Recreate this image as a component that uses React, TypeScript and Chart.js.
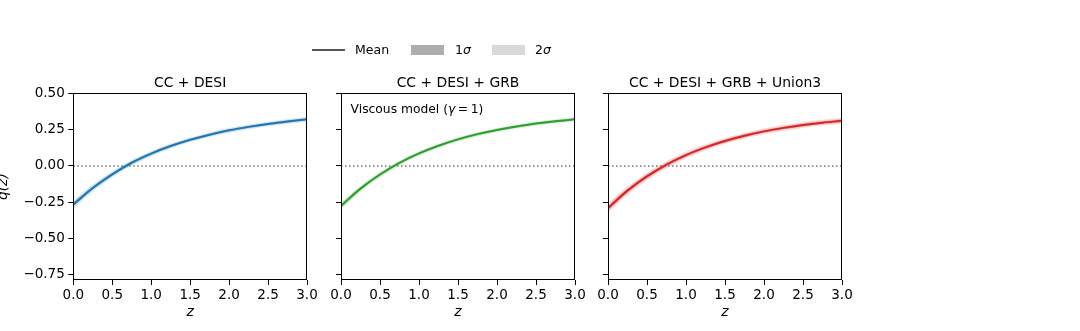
import React, { useEffect, useRef } from 'react';
import { Chart, registerables } from 'chart.js';

Chart.register(...registerables);

// ---------------- data ----------------
const zValues = [0, 0.25, 0.5, 0.75, 1.0, 1.25, 1.5, 1.75, 2.0, 2.25, 2.5, 2.75, 3.0];

const qMeanCCDESI = [-0.265, -0.152, -0.058, 0.022, 0.085, 0.137, 0.18, 0.215, 0.245, 0.269, 0.289, 0.306, 0.321];
const qMeanCCDESIGRB = [-0.275, -0.156, -0.059, 0.021, 0.086, 0.139, 0.183, 0.219, 0.248, 0.272, 0.292, 0.308, 0.321];
const qMeanCCDESIGRBU3 = [-0.29, -0.17, -0.072, 0.009, 0.075, 0.128, 0.172, 0.208, 0.238, 0.262, 0.282, 0.298, 0.311];

const sigma1CCDESI = [0.014, 0.012, 0.011, 0.01, 0.009, 0.009, 0.008, 0.008, 0.008, 0.008, 0.008, 0.008, 0.008];
const sigma2CCDESI = [0.028, 0.024, 0.021, 0.019, 0.018, 0.017, 0.016, 0.016, 0.016, 0.016, 0.016, 0.016, 0.016];
const sigma1CCDESIGRB = [0.012, 0.01, 0.009, 0.008, 0.007, 0.007, 0.007, 0.007, 0.007, 0.007, 0.007, 0.007, 0.007];
const sigma2CCDESIGRB = [0.024, 0.02, 0.018, 0.016, 0.015, 0.014, 0.014, 0.014, 0.014, 0.014, 0.014, 0.014, 0.014];
const sigma1CCDESIGRBU3 = [0.016, 0.014, 0.013, 0.012, 0.011, 0.01, 0.01, 0.01, 0.01, 0.01, 0.01, 0.01, 0.01];
const sigma2CCDESIGRBU3 = [0.032, 0.028, 0.026, 0.024, 0.022, 0.021, 0.02, 0.02, 0.02, 0.02, 0.02, 0.02, 0.02];

const panelTitles = ['CC + DESI', 'CC + DESI + GRB', 'CC + DESI + GRB + Union3'];
const panelColors = ['31,119,180', '44,160,44', '214,39,40'];
const xTicks = [0, 0.5, 1.0, 1.5, 2.0, 2.5, 3.0];
const yTicks = [-0.75, -0.5, -0.25, 0, 0.25, 0.5];
const xRange = [0, 3];
const yRange = [-0.785, 0.5];
const zeroLevel = 0;
const legendLabels = ['Mean', '1', '2'];
const noteParts = ['Viscous model (', 'γ', '=', '1)'];
const axisLabels = { x: 'z', y: 'q(z)' };

// ---------------- layout ----------------
const FONT = '"DejaVu Sans", "Liberation Sans", sans-serif';
const CANVAS_H = 331;
const PLOT_TOP = 93.3;
const PLOT_BOTTOM = 280;
const PLOT_W = 234;
const RIGHT_PAD = 16;
const TITLE_SIZE = 13.9;
const TITLE_PAD_BOTTOM = 1.66;

type PanelSpec = {
  title: string;
  color: string;
  mean: number[];
  s1: number[];
  s2: number[];
  plotLeft: number;
  yAxisWidth: number;
  showYLabels: boolean;
  note: boolean;
};

const panels: PanelSpec[] = [
  { title: panelTitles[0], color: panelColors[0], mean: qMeanCCDESI, s1: sigma1CCDESI, s2: sigma2CCDESI, plotLeft: 73.3, yAxisWidth: 73.3, showYLabels: true, note: false },
  { title: panelTitles[1], color: panelColors[1], mean: qMeanCCDESIGRB, s1: sigma1CCDESIGRB, s2: sigma2CCDESIGRB, plotLeft: 340.7, yAxisWidth: 25, showYLabels: false, note: true },
  { title: panelTitles[2], color: panelColors[2], mean: qMeanCCDESIGRBU3, s1: sigma1CCDESIGRBU3, s2: sigma2CCDESIGRBU3, plotLeft: 608, yAxisWidth: 25, showYLabels: false, note: false },
];

const fmtY = (v: number) => {
  const s = Number(v).toFixed(2);
  return s.startsWith('-') ? '\u2212' + s.slice(1) : s;
};

const framePlugin = {
  id: 'frame',
  afterDraw(chart: any) {
    const { ctx, chartArea } = chart;
    ctx.save();
    ctx.strokeStyle = '#000';
    ctx.lineWidth = 1;
    const l = Math.round(chartArea.left) + 0.5;
    const t = Math.round(chartArea.top) + 0.5;
    const r = Math.round(chartArea.right) - 0.5;
    const b = Math.round(chartArea.bottom) - 0.5;
    ctx.strokeRect(l, t, r - l, b - t);
    ctx.restore();
  },
};

const notePlugin = {
  id: 'note',
  afterDraw(chart: any) {
    if (!chart.options.plugins.note?.show) return;
    const { ctx, chartArea } = chart;
    ctx.save();
    ctx.fillStyle = '#000';
    ctx.textBaseline = 'alphabetic';
    ctx.textAlign = 'left';
    const reg = `12.3px ${FONT}`;
    const ital = `italic 12.3px ${FONT}`;
    let x = chartArea.left + 9.6;
    const y = chartArea.top + 19.4;
    const parts: [string, string, number][] = [
      [noteParts[0], reg, 0],
      [noteParts[1], ital, 2.6],
      [noteParts[2], reg, 2.6],
      [noteParts[3], reg, 0],
    ];
    for (const [txt, f, gap] of parts) {
      ctx.font = f;
      ctx.fillText(txt, x, y);
      x += ctx.measureText(txt).width + gap;
    }
    ctx.restore();
  },
};

function Panel({ spec }: { spec: PanelSpec }) {
  const ref = useRef<HTMLCanvasElement>(null);
  const canvasLeft = spec.plotLeft - spec.yAxisWidth;
  const canvasW = spec.yAxisWidth + PLOT_W + RIGHT_PAD;

  useEffect(() => {
    if (!ref.current) return;
    const pts = (ys: number[]) => zValues.map((z, i) => ({ x: z, y: ys[i] }));
    const band = (sign: number, s: number[]) => spec.mean.map((m, i) => m + sign * s[i]);
    const rgba = (a: number) => `rgba(${spec.color},${a})`;
    const bandDs = (ys: number[], fill: any, bg: string) => ({
      data: pts(ys),
      borderColor: 'transparent',
      borderWidth: 0,
      pointRadius: 0,
      fill,
      backgroundColor: bg,
      cubicInterpolationMode: 'monotone',
    });

    const chart = new Chart(ref.current, {
      type: 'line',
      data: {
        datasets: [
          {
            data: pts(spec.mean),
            borderColor: rgba(1),
            borderWidth: 2,
            pointRadius: 0,
            fill: false,
            cubicInterpolationMode: 'monotone',
          },
          {
            data: [
              { x: xRange[0], y: zeroLevel },
              { x: xRange[1], y: zeroLevel },
            ],
            borderColor: '#777',
            borderWidth: 1.4,
            borderDash: [1.5, 2.5],
            pointRadius: 0,
            fill: false,
          },
          bandDs(band(1, spec.s1), '+1', rgba(0.35)),
          bandDs(band(-1, spec.s1), false, 'transparent'),
          bandDs(band(1, spec.s2), '+1', rgba(0.18)),
          bandDs(band(-1, spec.s2), false, 'transparent'),
        ] as any,
      },
      options: {
        responsive: false,
        animation: false,
        events: [],
        layout: {
          padding: { top: PLOT_TOP - (TITLE_SIZE * 1.2 + TITLE_PAD_BOTTOM), right: RIGHT_PAD, bottom: 0, left: 0 },
        },
        plugins: {
          legend: { display: false },
          tooltip: { enabled: false },
          title: {
            display: true,
            text: spec.title,
            fullSize: false,
            color: '#000',
            font: { family: FONT, size: TITLE_SIZE, weight: 'normal', lineHeight: 1.2 },
            padding: { top: 0, bottom: TITLE_PAD_BOTTOM },
          },
          note: { show: spec.note },
        } as any,
        scales: {
          x: {
            type: 'linear',
            min: xRange[0],
            max: xRange[1],
            afterBuildTicks: (scale: any) => {
              scale.ticks = xTicks.map((v) => ({ value: v }));
            },
            afterFit: (scale: any) => {
              scale.height = CANVAS_H - PLOT_BOTTOM;
            },
            border: { display: false },
            grid: { drawOnChartArea: false, drawTicks: true, tickLength: 5, color: '#000', lineWidth: 1 },
            ticks: {
              color: '#000',
              font: { family: FONT, size: 13.5 },
              padding: 2.5,
              maxRotation: 0,
              autoSkip: false,
              callback: (v: any) => Number(v).toFixed(1),
            },
            title: {
              display: true,
              text: axisLabels.x,
              color: '#000',
              font: { family: FONT, size: 13.9, style: 'italic', lineHeight: 1.2 },
              padding: { top: 0, bottom: 10.7 },
            },
          },
          y: {
            type: 'linear',
            min: yRange[0],
            max: yRange[1],
            afterBuildTicks: (scale: any) => {
              scale.ticks = yTicks.map((v) => ({ value: v }));
            },
            afterFit: (scale: any) => {
              scale.width = spec.yAxisWidth;
            },
            border: { display: false },
            grid: { drawOnChartArea: false, drawTicks: true, tickLength: 5, color: '#000', lineWidth: 1 },
            ticks: {
              display: spec.showYLabels,
              color: '#000',
              font: { family: FONT, size: 13.5 },
              padding: 3.5,
              autoSkip: false,
              callback: (v: any) => fmtY(v),
            },
            title: {
              display: spec.showYLabels,
              text: axisLabels.y,
              color: '#000',
              font: { family: FONT, size: 13.9, style: 'italic', lineHeight: 1.2 },
              padding: { top: -5.3, bottom: 0 },
            },
          },
        },
      } as any,
      plugins: [framePlugin, notePlugin],
    });
    return () => chart.destroy();
  }, [spec]);

  return (
    <canvas
      ref={ref}
      width={canvasW}
      height={CANVAS_H}
      style={{ position: 'absolute', left: canvasLeft, top: 0, width: canvasW, height: CANVAS_H }}
    />
  );
}

function Legend() {
  const text: React.CSSProperties = {
    position: 'absolute',
    top: 40,
    height: 20,
    lineHeight: '20px',
    fontFamily: FONT,
    fontSize: 12.5,
    color: '#000',
    whiteSpace: 'nowrap',
  };
  return (
    <>
      <div style={{ position: 'absolute', left: 312, top: 49.2, width: 33, height: 1.5, background: '#555' }} />
      <div style={{ ...text, left: 355 }}>{legendLabels[0]}</div>
      <div style={{ position: 'absolute', left: 411, top: 45, width: 33, height: 9.5, background: '#adadad' }} />
      <div style={{ ...text, left: 455 }}>
        {legendLabels[1]}
        <i>σ</i>
      </div>
      <div style={{ position: 'absolute', left: 492, top: 45, width: 33, height: 9.5, background: '#d9d9d9' }} />
      <div style={{ ...text, left: 535 }}>
        {legendLabels[2]}
        <i>σ</i>
      </div>
    </>
  );
}

export default function App() {
  return (
    <div style={{ position: 'fixed', left: 0, top: 0, width: 1080, height: CANVAS_H, background: '#fff', overflow: 'hidden' }}>
      {panels.map((p, i) => (
        <Panel key={i} spec={p} />
      ))}
      <Legend />
    </div>
  );
}
